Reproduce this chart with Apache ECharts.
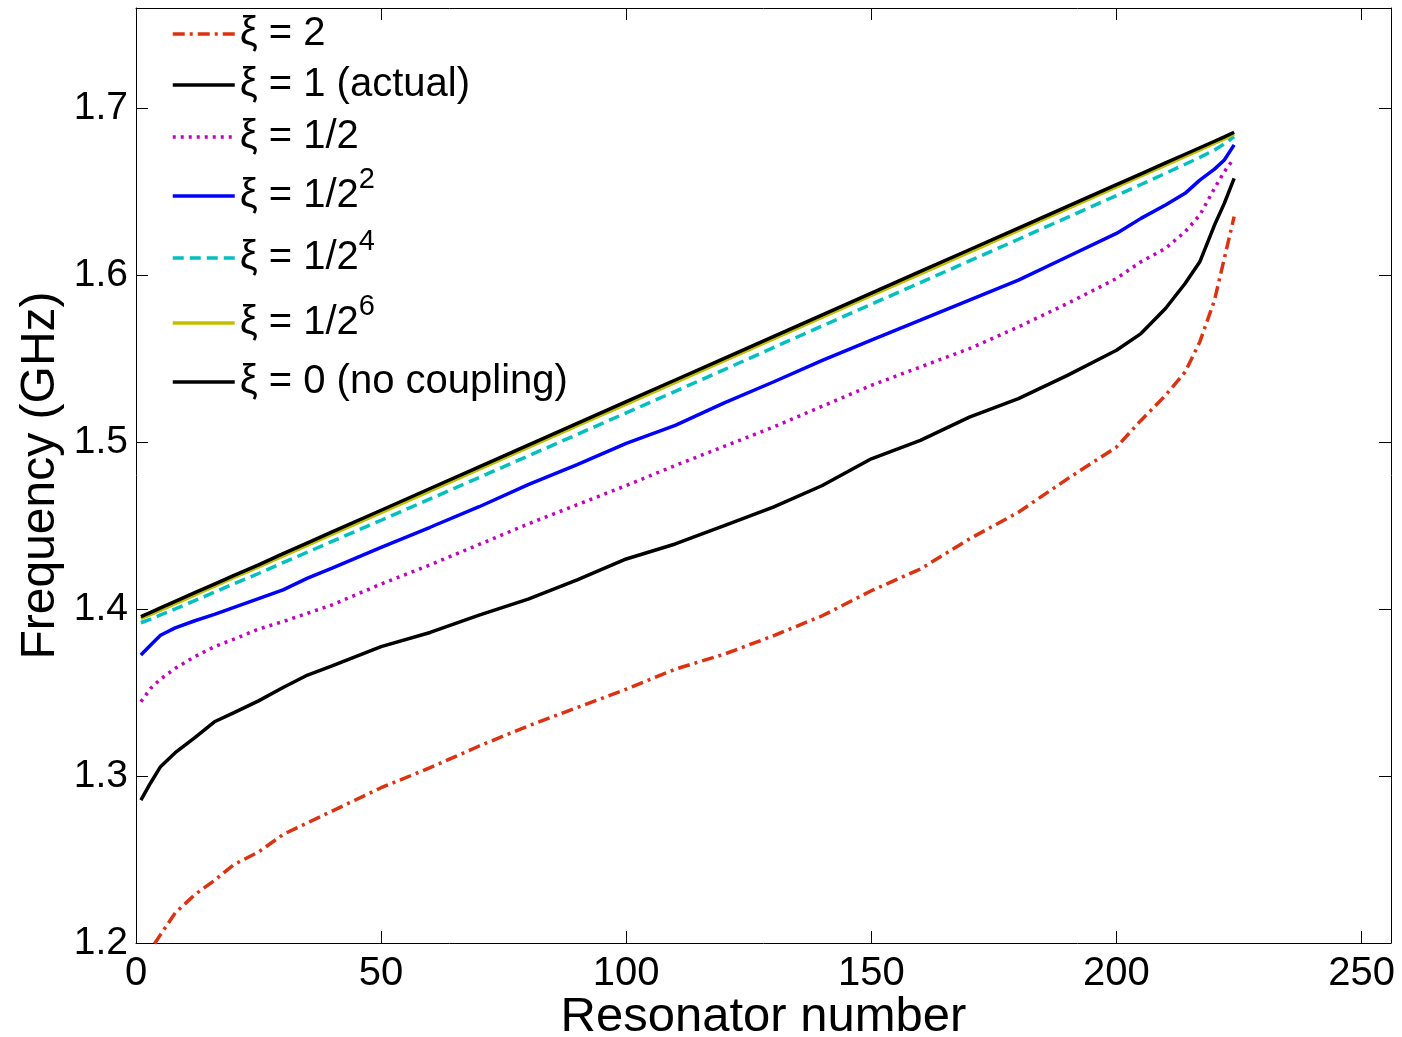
<!DOCTYPE html>
<html>
<head>
<meta charset="utf-8">
<script src="https://cdn.jsdelivr.net/npm/echarts@6/dist/echarts.min.js"></script>
<style>
html,body{margin:0;padding:0;background:#fff;}
#chart{width:1402px;height:1037px;}
</style>
</head>
<body>
<div id="chart"></div>
<script>
// Resonator numbers at which the curves were read
const resonator = [1,3,5,8,12,16,20,25,30,35,40,50,60,70,80,90,100,110,120,130,140,150,160,170,180,190,200,205,210,214,217,220,222,224];

// Frequencies (GHz)
const xi2 = [1.1870,1.1960,1.2050,1.2180,1.2290,1.2375,1.2470,1.2545,1.2650,1.2720,1.2790,1.2930,1.3050,1.3180,1.3300,1.3410,1.3520,1.3640,1.3730,1.3840,1.3960,1.4110,1.4240,1.4420,1.4580,1.4780,1.4970,1.5130,1.5280,1.5420,1.5600,1.5850,1.6100,1.6350];
const xi1 = [1.2856,1.2960,1.3056,1.3140,1.3230,1.3325,1.3380,1.3450,1.3530,1.3605,1.3660,1.3775,1.3860,1.3964,1.4060,1.4175,1.4300,1.4390,1.4500,1.4610,1.4740,1.4900,1.5010,1.5150,1.5260,1.5400,1.5550,1.5650,1.5800,1.5950,1.6080,1.6300,1.6430,1.6580];
const xiHalf = [1.3445,1.3525,1.3580,1.3645,1.3715,1.3775,1.3820,1.3880,1.3925,1.3975,1.4025,1.4150,1.4265,1.4387,1.4510,1.4625,1.4740,1.4860,1.4975,1.5090,1.5215,1.5340,1.5450,1.5560,1.5690,1.5830,1.5980,1.6080,1.6160,1.6260,1.6360,1.6520,1.6620,1.6700];
const xiQuarter = [1.3725,1.3785,1.3843,1.3887,1.3930,1.3968,1.4010,1.4062,1.4115,1.4185,1.4245,1.4370,1.4490,1.4613,1.4745,1.4865,1.4992,1.5100,1.5235,1.5360,1.5490,1.5611,1.5730,1.5850,1.5970,1.6110,1.6250,1.6340,1.6420,1.6490,1.6569,1.6635,1.6690,1.6780];
const xi16th = [1.3918,1.3940,1.3965,1.4001,1.4051,1.4101,1.4152,1.4213,1.4278,1.4341,1.4405,1.4532,1.4660,1.4788,1.4917,1.5046,1.5175,1.5304,1.5434,1.5566,1.5696,1.5826,1.5955,1.6085,1.6215,1.6346,1.6477,1.6543,1.6610,1.6664,1.6705,1.6750,1.6786,1.6830];
const xi64th = [1.3943,1.3968,1.3994,1.4033,1.4085,1.4137,1.4189,1.4252,1.4318,1.4383,1.4448,1.4578,1.4708,1.4838,1.4968,1.5098,1.5228,1.5358,1.5488,1.5618,1.5748,1.5878,1.6008,1.6138,1.6268,1.6398,1.6529,1.6594,1.6659,1.6711,1.6750,1.6790,1.6816,1.6846];
const xi0 = [1.3955,1.3980,1.4007,1.4046,1.4098,1.4150,1.4202,1.4265,1.4332,1.4397,1.4462,1.4592,1.4722,1.4852,1.4982,1.5112,1.5242,1.5372,1.5502,1.5632,1.5762,1.5892,1.6022,1.6152,1.6282,1.6412,1.6542,1.6607,1.6672,1.6724,1.6763,1.6802,1.6828,1.6856];

// Legend labels (base text + superscript)
const seriesNames = ['ξ = 2', 'ξ = 1 (actual)', 'ξ = 1/2', 'ξ = 1/2^2', 'ξ = 1/2^4', 'ξ = 1/2^6', 'ξ = 0 (no coupling)'];
const legendBase = ['ξ = 2', 'ξ = 1 (actual)', 'ξ = 1/2', 'ξ = 1/2', 'ξ = 1/2', 'ξ = 1/2', 'ξ = 0 (no coupling)'];
const legendSup = ['', '', '', '2', '4', '6', ''];

// Tick values
const xTicks = [0, 50, 100, 150, 200, 250];
const yTicks = [1.2, 1.3, 1.4, 1.5, 1.6, 1.7];

const seriesValues = [xi2, xi1, xiHalf, xiQuarter, xi16th, xi64th, xi0];
const seriesColors = ['#DA3312', '#000000', '#BF00BF', '#0000FF', '#00BFBF', '#BFBF00', '#000000'];
const seriesDash = [[12, 5, 3, 5], 'solid', [3, 5], 'solid', [11, 6], 'solid', 'solid'];

// legend rows: vertical centre of each legend line sample
const legendRowY = [32, 83, 135, 193, 255, 320, 380];

const FONT = '"Liberation Sans", Arial, Helvetica, sans-serif';

const chart = echarts.init(document.getElementById('chart'), null, {renderer: 'canvas'});

const series = seriesValues.map((vals, i) => ({
  name: seriesNames[i],
  type: 'line',
  data: resonator.map((r, k) => [r, vals[k]]),
  showSymbol: false,
  symbol: 'none',
  clip: true,
  lineStyle: {color: seriesColors[i], width: 3.5, type: seriesDash[i], cap: 'butt'},
  itemStyle: {color: seriesColors[i]},
  emphasis: {disabled: true},
  z: 2 + i
}));

const legends = seriesNames.map((nm, i) => ({
  orient: 'vertical',
  left: 171,
  top: legendRowY[i] - (legendSup[i] ? 28 : 18),
  padding: 0,
  itemWidth: 62,
  itemHeight: 14,
  itemGap: 0,
  selectedMode: false,
  data: [nm],
  itemStyle: {opacity: 0, borderWidth: 0},
  lineStyle: {width: 3.5},
  formatter: name => {
    const k = seriesNames.indexOf(name);
    return '{m|' + legendBase[k] + '}' + (legendSup[k] ? '{s|' + legendSup[k] + '}' : '');
  },
  textStyle: {
    fontFamily: FONT,
    color: '#000',
    fontSize: 40,
    rich: {
      m: {fontSize: 40, lineHeight: 40, fontFamily: FONT, color: '#000', verticalAlign: 'bottom'},
      s: {fontSize: 29, lineHeight: 29, fontFamily: FONT, color: '#000', verticalAlign: 'bottom', padding: [0, 0, 22, 0]}
    }
  }
}));

const baseAxis = {
  axisLine: {show: true, onZero: false, lineStyle: {color: '#000', width: 1}},
  axisTick: {show: true, inside: true, length: 12, lineStyle: {color: '#000', width: 1}},
  splitLine: {show: false}
};

const option = {
  animation: false,
  backgroundColor: '#fff',
  grid: {left: 136, right: 11, top: 8, bottom: 94, containLabel: false, outerBoundsMode: 'none'},
  xAxis: [
    Object.assign({}, baseAxis, {
      type: 'value', min: 0, max: 256, interval: 50, position: 'bottom',
      axisLabel: {
        show: true, fontSize: 40, color: '#000', fontFamily: FONT, margin: 11,
        formatter: v => xTicks.includes(v) ? String(v) : ''
      },
      name: 'Resonator number', nameLocation: 'middle', nameGap: 50, nameMoveOverlap: false,
      nameTextStyle: {fontSize: 49, color: '#000', fontFamily: FONT}
    }),
    Object.assign({}, baseAxis, {
      type: 'value', min: 0, max: 256, interval: 50, position: 'top',
      axisLabel: {show: false}
    })
  ],
  yAxis: [
    Object.assign({}, baseAxis, {
      type: 'value', min: 1.2, max: 1.76, interval: 0.1, position: 'left',
      axisLabel: {
        show: true, fontSize: 39, color: '#000', fontFamily: FONT, margin: 8,
        formatter: v => {
          const t = yTicks.find(y => Math.abs(y - v) < 1e-6);
          return t !== undefined ? t.toFixed(1) : '';
        }
      },
      name: 'Frequency (GHz)', nameLocation: 'middle', nameGap: 71, nameMoveOverlap: false,
      nameTextStyle: {fontSize: 48, color: '#000', fontFamily: FONT}
    }),
    Object.assign({}, baseAxis, {
      type: 'value', min: 1.2, max: 1.76, interval: 0.1, position: 'right',
      axisLabel: {show: false}
    })
  ],
  legend: legends,
  series: series
};

chart.setOption(option);
</script>
</body>
</html>
